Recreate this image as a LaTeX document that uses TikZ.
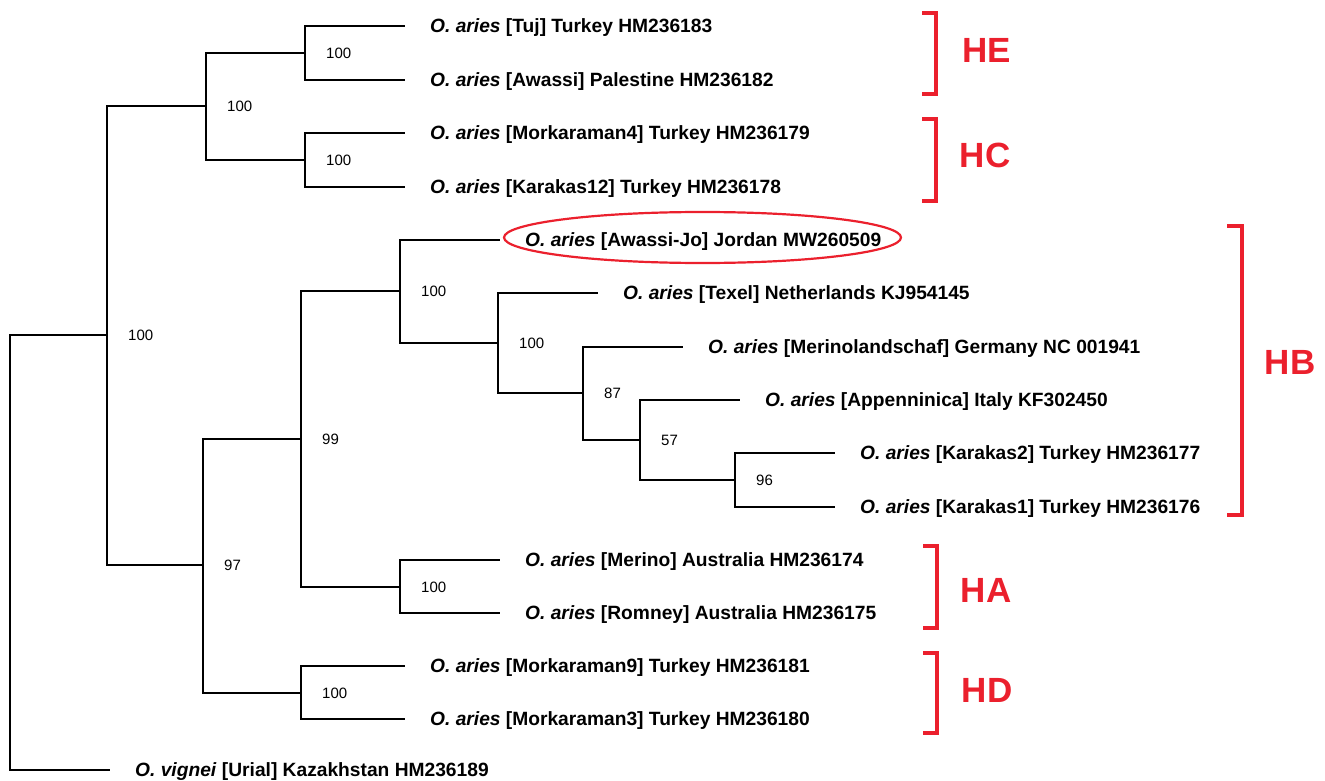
\documentclass[tikz,border=0pt]{standalone}
\usepackage{fontspec}
\setmainfont{Liberation Sans}
\usetikzlibrary{positioning}
\usetikzlibrary{calc}

\definecolor{cladered}{RGB}{235,32,45}
\newcommand{\oaries}{\textit{O. aries}}

\begin{document}
\begin{tikzpicture}[x=1pt, y=-1pt,
    branch/.style={draw=black, line width=2pt},
    leaf/.style={inner sep=0pt, yshift=-1.8pt, font=\fontsize{19.2}{23}\selectfont\bfseries},
    boot/.style={inner sep=0pt, font=\fontsize{15}{18}\selectfont},
    clade/.style={draw=cladered, line width=4.5pt},
    cladename/.style={text=cladered, font=\fontsize{35}{40}\selectfont\bfseries},
    hilite/.style={draw=cladered, line width=2.2pt}]

      \useasboundingbox (0,0) rectangle (1325,781);

      % Gap between branch tip and label
      \def\gap{25pt}

      % Branch tips and taxon labels
      \foreach \nm/\tx/\ty/\txt in {
          t1/405/26/{[Tuj] Turkey HM236183},
          t2/405/80/{[Awassi] Palestine HM236182},
          t3/405/133/{[Morkaraman4] Turkey HM236179},
          t4/405/187/{[Karakas12] Turkey HM236178},
          t5/500/240/{[Awassi-Jo] Jordan MW260509},
          t6/598/293/{[Texel] Netherlands KJ954145},
          t7/683/347/{[Merinolandschaf] Germany NC 001941},
          t8/740/400/{[Appenninica] Italy KF302450},
          t9/835/453/{[Karakas2] Turkey HM236177},
          t10/835/507/{[Karakas1] Turkey HM236176},
          t11/500/560/{[Merino] Australia HM236174},
          t12/500/613/{[Romney] Australia HM236175},
          t13/405/666/{[Morkaraman9] Turkey HM236181},
          t14/405/719/{[Morkaraman3] Turkey HM236180}} {
        \coordinate (\nm) at (\tx,\ty);
        \node[leaf, right=\gap of \nm] (l\nm) {\oaries\ \txt};
      }

      % Outgroup
      \coordinate (t15) at (110,770);
      \node[leaf, right=\gap of t15] (lt15) {\textit{O. vignei} [Urial] Kazakhstan HM236189};

      % Internal nodes
      \coordinate (root) at (10,552);
      \coordinate (n4) at (107,335);
      \coordinate (n3) at (206,106);
      \coordinate (n1) at (305,53);
      \coordinate (n2) at (305,160);
      \coordinate (n5) at (203,565);
      \coordinate (n6) at (301,439);
      \coordinate (n7) at (301,693);
      \coordinate (n8) at (400,291);
      \coordinate (n9) at (400,587);
      \coordinate (n10) at (498,343);
      \coordinate (n11) at (583,393);
      \coordinate (n12) at (640,440);
      \coordinate (n13) at (735,480);

      % Branches
      \foreach \a/\b in {root/n4, root/t15, n4/n3, n4/n5, n3/n1, n3/n2,
          n1/t1, n1/t2, n2/t3, n2/t4, n5/n6, n5/n7, n6/n8, n6/n9,
          n8/t5, n8/n10, n10/t6, n10/n11, n11/t7, n11/n12,
          n12/t8, n12/n13, n13/t9, n13/t10, n9/t11, n9/t12, n7/t13, n7/t14} {
        \draw[branch] (\a) |- (\b);
      }

      % Bootstrap values
      \foreach \n/\v in {n4/100, n3/100, n1/100, n2/100, n5/97, n6/99, n7/100,
          n8/100, n9/100, n10/100, n11/87, n12/57, n13/96} {
        \node[boot, right=21pt of \n] (b\n) {\v};
      }

      % Highlighted sequence
      \draw[hilite] (702.5,237.5) ellipse [x radius=198.5pt, y radius=25.5pt];

      % Haplogroup brackets
      \draw[clade] (922,13) -- (936,13) -- (936,94) -- (922,94);
      \draw[clade] (922,119) -- (936,119) -- (936,201) -- (922,201);
      \draw[clade] (1227,226) -- (1242,226) -- (1242,515) -- (1227,515);
      \draw[clade] (923,546) -- (937,546) -- (937,628) -- (923,628);
      \draw[clade] (923,653) -- (937,653) -- (937,733) -- (923,733);

      \node[cladename] (HE) at (987,50) {HE};
      \node[cladename] (HC) at (985,155) {HC};
      \node[cladename] (HB) at (1290,362) {HB};
      \node[cladename] (HA) at (986,590) {HA};
      \node[cladename] (HD) at (987,690) {HD};

    \end{tikzpicture}
\end{document}
